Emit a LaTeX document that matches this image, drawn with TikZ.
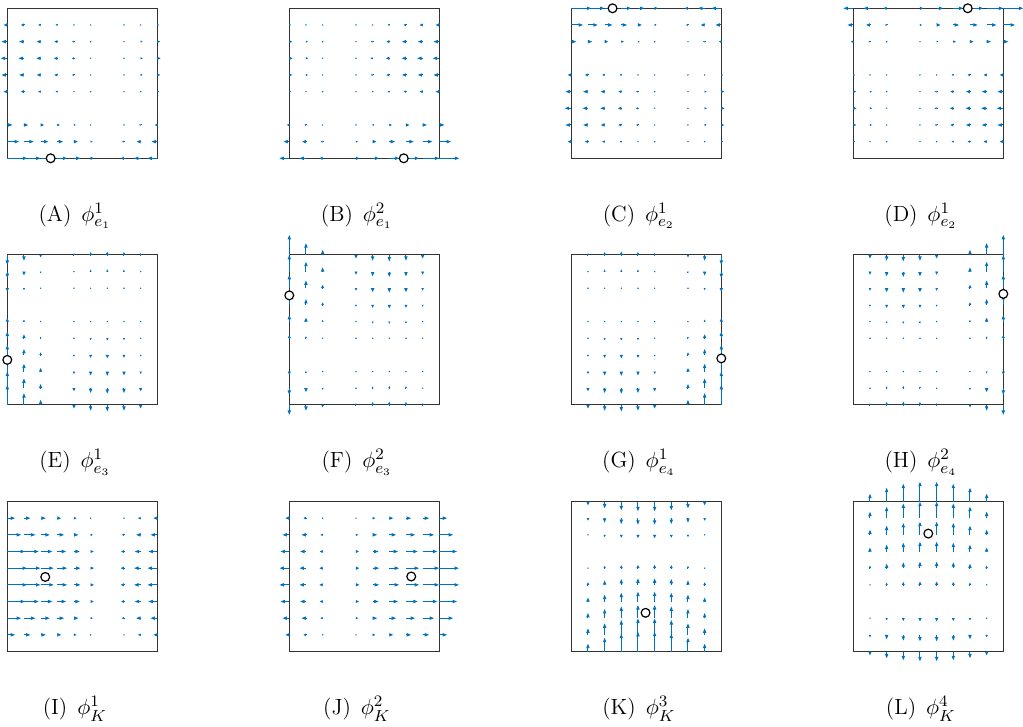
\documentclass[tikz,border=0pt]{standalone}
\usepackage{amsmath,amssymb}
\usepackage{xcolor}
\usepackage{tikz}
\usetikzlibrary{arrows.meta,positioning,calc}

\definecolor{quivblue}{RGB}{0,114,189}

\begin{document}
\begin{tikzpicture}[
  x=0.5pt, y=-0.5pt,
  frame/.style={draw=black!80, line width=0.55pt},
  vec/.style={draw=quivblue, fill=quivblue, line width=0.5pt},
  dof/.style={circle, draw=black, fill=white, line width=0.6pt, inner sep=0pt, minimum size=4.4pt},
  captxt/.style={font=\fontsize{11}{13}\selectfont, anchor=base},
  declare function={
    bas(\k,\t)=(\k==0)*(2-3*\t)+(\k==1)*(3*\t-1)+(\k==2)*(1-\t)*(1-3*\t)+(\k==3)*\t*(3*\t-2)+(\k==4)*4*\t*(1-\t);
  }
]
  \useasboundingbox (0,0) rectangle (1023,727);
  % col/row/direction/x-factor/y-factor/dof position/label/super/sub
  \foreach \col/\row/\dir/\kx/\ky/\cx/\cy/\lab/\idx/\edg in {
    0/0/0/0/2/0.289/0/A/1/e_1,
    1/0/0/1/2/0.763/0/B/2/e_1,
    2/0/0/0/3/0.275/1/C/1/e_2,
    3/0/0/1/3/0.763/1/D/1/e_2,
    0/1/1/2/0/0/0.30/E/1/e_3,
    1/1/1/2/1/0/0.73/F/2/e_3,
    2/1/1/3/0/1/0.31/G/1/e_4,
    3/1/1/3/1/1/0.74/H/2/e_4,
    0/2/0/0/4/0.253/0.497/I/1/K,
    1/2/0/1/4/0.813/0.5/J/2/K,
    2/2/1/4/0/0.495/0.258/K/3/K,
    3/2/1/4/1/0.5/0.786/L/4/K} {
    \begin{scope}[shift={(7.3+282*\col, 8.3+246.6*\row)}]
      \draw[frame] (0,0) rectangle (150,150);
      \foreach \i in {0,...,9} {
        \foreach \j in {0,...,9} {
          \pgfmathsetmacro{\vlen}{10*bas(\kx,\i/9)*bas(\ky,\j/9)}
          \pgfmathsetmacro{\alen}{abs(\vlen)}
          \pgfmathsetmacro{\ptx}{150*\i/9}
          \pgfmathsetmacro{\pty}{150-150*\j/9}
          \pgfmathsetmacro{\dx}{(1-\dir)*(\vlen)}
          \pgfmathsetmacro{\dy}{-1*\dir*(\vlen)}
          \pgfmathsetmacro{\hl}{0.5*min(4.5,\alen)}
          \pgfmathsetmacro{\hw}{0.5*min(3.2,0.9*\alen)}
          \ifdim\alen pt<0.2pt\else
            \ifdim\alen pt<1.5pt
              \fill[quivblue] (\ptx,\pty) circle[radius=0.8];
            \else
              \draw[vec, -{Triangle[length=\hl pt, width=\hw pt]}] (\ptx,\pty) -- ++(\dx,\dy);
            \fi
          \fi
        }
      }
      \node[dof] (dof-\lab) at ({150*\cx},{150*(1-\cy)}) {};
      \node[captxt] (cap-\lab) at (67.5,213) {(\lab)\hspace{0.45em}$\phi^{\idx}_{\edg}$};
    \end{scope}
  }
\end{tikzpicture}
\end{document}
